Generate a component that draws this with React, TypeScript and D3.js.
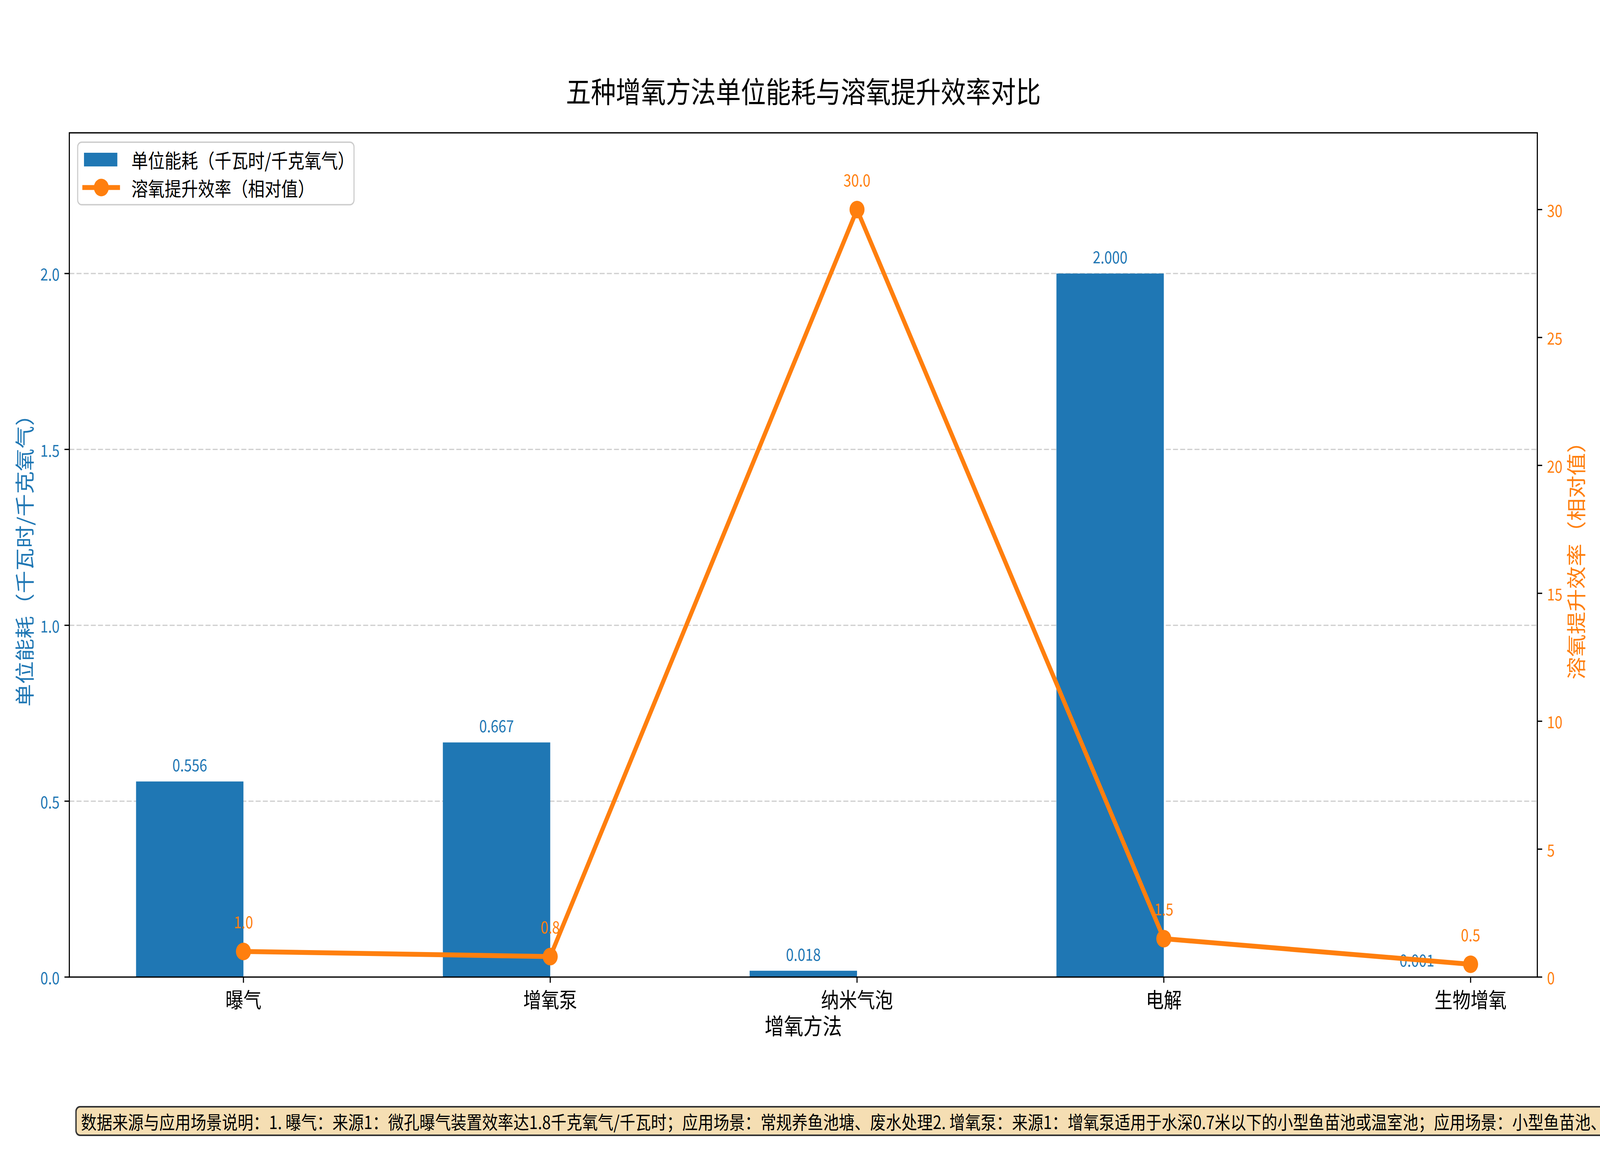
import * as d3 from "d3";

const methods = ["曝气", "增氧泵", "纳米气泡", "电解", "生物增氧"];
const energyUse = [0.556, 0.667, 0.018, 2.0, 0.001];
const doEfficiency = [1.0, 0.8, 30.0, 1.5, 0.5];
const leftTicks = [0, 0.5, 1.0, 1.5, 2.0];
const rightTicks = [0, 5, 10, 15, 20, 25, 30];

const footerText =
  "数据来源与应用场景说明：1. 曝气：来源1：微孔曝气装置效率达1.8千克氧气/千瓦时；应用场景：常规养鱼池塘、废水处理2. 增氧泵：来源1：增氧泵适用于水深0.7米以下的小型鱼苗池或温室池；应用场景：小型鱼苗池、温室池";

const W = 4800;
const H = 3000;
const FONT = "'Noto Sans CJK SC', 'Noto Sans', sans-serif";
const BLUE = "#1f77b4";
const ORANGE = "#ff7f0e";

export default function App() {
  const margin = { top: 340, right: 188, bottom: 499, left: 208 };
  const x0 = margin.left;
  const x1 = W - margin.right;
  const y0 = H - margin.bottom;
  const y1 = margin.top;

  const barW = 0.35;
  // matplotlib-like 5% margins around the data extent
  const dMin = -barW;
  const dMax = methods.length - 1;
  const pad = (dMax - dMin) * 0.05;
  const x = d3.scaleLinear().domain([dMin - pad, dMax + pad]).range([x0, x1]);

  const yL = d3.scaleLinear().domain([0, d3.max(energyUse)! * 1.2]).range([y0, y1]);
  const yR = d3.scaleLinear().domain([0, d3.max(doEfficiency)! * 1.1]).range([y0, y1]);

  const line = d3
    .line<number>()
    .x((_, i) => x(i))
    .y((d) => yR(d));

  const tickLen = 14.6;
  const axisW = 3.3;

  return (
    <svg
      viewBox={`0 0 ${W} ${H}`}
      preserveAspectRatio="none"
      style={{ position: "absolute", left: 0, top: 0, width: "100vw", height: "100vh", background: "#fff" }}
      fontFamily={FONT}
    >
      <rect width={W} height={H} fill="#fff" />

      {/* title */}
      <text x={(x0 + x1) / 2} y={230} textAnchor="middle" dominantBaseline="central" fontSize={75}>
        五种增氧方法单位能耗与溶氧提升效率对比
      </text>

      {/* grid */}
      {leftTicks.slice(1).map((t) => (
        <line
          key={"g" + t}
          x1={x0}
          x2={x1}
          y1={yL(t)}
          y2={yL(t)}
          stroke="#b0b0b0"
          strokeOpacity={0.6}
          strokeWidth={3.3}
          strokeDasharray="15,6.5"
        />
      ))}

      {/* bars */}
      {energyUse.map((v, i) => (
        <rect
          key={"b" + i}
          x={x(i - barW)}
          y={yL(v)}
          width={x(i) - x(i - barW)}
          height={y0 - yL(v)}
          fill={BLUE}
        />
      ))}

      {/* bar labels */}
      {energyUse.map((v, i) => (
        <text
          key={"bl" + i}
          x={x(i - barW / 2)}
          y={yL(v + 0.02)}
          textAnchor="middle"
          fontSize={41.7}
          fill={BLUE}
          dy={-8}
        >
          {v.toFixed(3)}
        </text>
      ))}

      {/* line series */}
      <path d={line(doEfficiency)!} fill="none" stroke={ORANGE} strokeWidth={12.5} strokeLinejoin="round" />
      {doEfficiency.map((v, i) => (
        <circle key={"c" + i} cx={x(i)} cy={yR(v)} r={22.5} fill={ORANGE} />
      ))}
      {doEfficiency.map((v, i) => (
        <text
          key={"ll" + i}
          x={x(i)}
          y={yR(v) - 78}
          textAnchor="middle"
          dominantBaseline="central"
          fontSize={41.7}
          fill={ORANGE}
        >
          {v.toFixed(1)}
        </text>
      ))}

      {/* frame */}
      <rect x={x0} y={y1} width={x1 - x0} height={y0 - y1} fill="none" stroke="#000" strokeWidth={axisW} />

      {/* left axis */}
      {leftTicks.map((t) => (
        <g key={"lt" + t}>
          <line x1={x0 - tickLen} x2={x0} y1={yL(t)} y2={yL(t)} stroke="#000" strokeWidth={axisW} />
          <text
            x={x0 - tickLen - 14.6}
            y={yL(t)}
            textAnchor="end"
            dominantBaseline="central"
            fontSize={41.7}
            fill={BLUE}
          >
            {t.toFixed(1)}
          </text>
        </g>
      ))}
      <text
        transform={`translate(71,${(y0 + y1) / 2}) rotate(-90)`}
        textAnchor="middle"
        dominantBaseline="central"
        fontSize={58}
        fill={BLUE}
      >
        单位能耗（千瓦时/千克氧气）
      </text>

      {/* right axis */}
      {rightTicks.map((t) => (
        <g key={"rt" + t}>
          <line x1={x1} x2={x1 + tickLen} y1={yR(t)} y2={yR(t)} stroke="#000" strokeWidth={axisW} />
          <text
            x={x1 + tickLen + 14.6}
            y={yR(t)}
            textAnchor="start"
            dominantBaseline="central"
            fontSize={41.7}
            fill={ORANGE}
          >
            {t}
          </text>
        </g>
      ))}
      <text
        transform={`translate(4726,${(y0 + y1) / 2}) rotate(-90)`}
        textAnchor="middle"
        dominantBaseline="central"
        fontSize={58}
        fill={ORANGE}
      >
        溶氧提升效率（相对值）
      </text>

      {/* x axis */}
      {methods.map((m, i) => (
        <g key={"xt" + i}>
          <line x1={x(i)} x2={x(i)} y1={y0} y2={y0 + tickLen} stroke="#000" strokeWidth={axisW} />
          <text x={x(i)} y={2556} textAnchor="middle" dominantBaseline="central" fontSize={54}>
            {m}
          </text>
        </g>
      ))}
      <text x={(x0 + x1) / 2} y={2623} textAnchor="middle" dominantBaseline="central" fontSize={58}>
        增氧方法
      </text>

      {/* legend */}
      <g>
        <rect x={233} y={364} width={829} height={160} rx={12} fill="#fff" fillOpacity={0.8} stroke="#cccccc" strokeWidth={3.3} />
        <rect x={252} y={391} width={100} height={35} fill={BLUE} />
        <text x={394} y={408} dominantBaseline="central" fontSize={50}>
          单位能耗（千瓦时/千克氧气）
        </text>
        <line x1={247} x2={360} y1={480} y2={480} stroke={ORANGE} strokeWidth={12.5} />
        <circle cx={304} cy={480} r={22.5} fill={ORANGE} />
        <text x={394} y={480} dominantBaseline="central" fontSize={50}>
          溶氧提升效率（相对值）
        </text>
      </g>

      {/* footer note */}
      <rect x={228} y={2833} width={5200} height={73} rx={12} fill="#f5deb3" stroke="#333" strokeWidth={4} />
      <text x={243} y={2870} dominantBaseline="central" fontSize={47}>
        {footerText}
      </text>
    </svg>
  );
}
